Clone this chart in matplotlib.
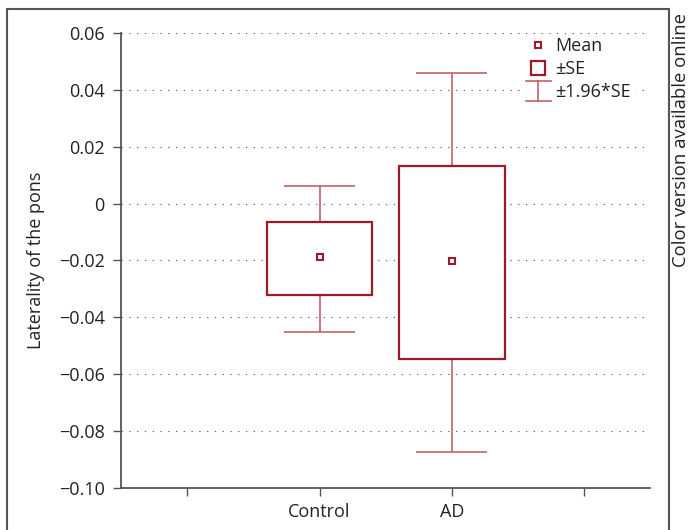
import numpy as np
import matplotlib
matplotlib.use('Agg')
import matplotlib.pyplot as plt
from matplotlib.lines import Line2D
from matplotlib.patches import Rectangle
from matplotlib.legend_handler import HandlerBase

plt.rcParams['font.family'] = ['Open Sans', 'DejaVu Sans']

groups = ['Control', 'AD']
means = [-0.0188, -0.0201]
se_low = [-0.0321, -0.0547]
se_high = [-0.0063, 0.0133]
ci_low = [-0.0451, -0.0875]
ci_high = [0.0064, 0.0461]
yticks = [0.06, 0.04, 0.02, 0, -0.02, -0.04, -0.06, -0.08, -0.10]
ytick_labels = ['0.06', '0.04', '0.02', '0', '\u22120.02', '\u22120.04',
                '\u22120.06', '\u22120.08', '\u22120.10']

box_col = '#9b1b26'
whisk_col = '#c4606a'
axis_col = '#555555'


class HandlerIBeam(HandlerBase):
    def create_artists(self, legend, orig_handle, xdescent, ydescent,
                       width, height, fontsize, trans):
        cx = width / 2 - xdescent
        w = 0.95 * width
        top = height * 1.25
        bot = -height * 0.3
        kw = dict(color=whisk_col, lw=1.2, transform=trans)
        return [Line2D([cx - w / 2, cx + w / 2], [top, top], **kw),
                Line2D([cx, cx], [bot, top], **kw),
                Line2D([cx - w / 2, cx + w / 2], [bot, bot], **kw)]


fig = plt.figure(figsize=(6.91, 5.30), dpi=100)
ax = fig.add_axes([0.1755, 0.0798, 0.7652, 0.8574])

x = np.arange(1, len(groups) + 1)

# whiskers +-1.96 SE
ax.vlines(x, ci_low, ci_high, color=whisk_col, lw=1.2, zorder=2)
ax.hlines(ci_low, x - 0.27, x + 0.27, color=whisk_col, lw=1.2, zorder=2)
ax.hlines(ci_high, x - 0.27, x + 0.27, color=whisk_col, lw=1.2, zorder=2)

# boxes +-SE
heights = np.array(se_high) - np.array(se_low)
ax.bar(x, heights, bottom=se_low, width=0.8, facecolor='white',
       edgecolor=box_col, lw=1.6, zorder=3)

# means
ax.plot(x, means, 's', ms=5, mfc='white', mec=box_col, mew=1.5, zorder=4)

ax.set_xlim(-0.5, 3.5)
ax.set_ylim(-0.10, 0.06)
ax.set_xticks([0, 1, 2, 3])
ax.set_xticklabels(['', 'Control', 'AD', ''])
ax.set_yticks(yticks)
ax.set_yticklabels(ytick_labels)
ax.tick_params(axis='both', direction='out', length=6, width=1,
               color=axis_col, labelsize=13, labelcolor='#222222')
ax.tick_params(axis='y', pad=6)
ax.tick_params(axis='x', pad=5)

for yv in yticks[:-1]:
    # top line stays visible above the legend box
    z = 6 if yv == max(yticks) else 1
    ax.axhline(yv, color='#666666', lw=0.8, ls=(0, (1.2, 5.8)), zorder=z)

for s in ['top', 'right']:
    ax.spines[s].set_visible(False)
for s in ['left', 'bottom']:
    ax.spines[s].set_color(axis_col)
    ax.spines[s].set_linewidth(1.3)

ax.set_ylabel('Laterality of the pons', fontsize=13, color='#222222',
              labelpad=10)

handles = [
    Line2D([], [], marker='s', ls='none', ms=5, mfc='white', mec=box_col, mew=1.5),
    Line2D([], [], marker='s', ls='none', ms=9.5, mfc='white', mec=box_col, mew=1.6),
    'ibeam',
]
leg = ax.legend(handles, ['Mean', '\u00b1SE', '\u00b11.96*SE'],
                handler_map={str: HandlerIBeam()},
                loc='upper right', bbox_to_anchor=(0.99, 1.022),
                frameon=True, fancybox=False, edgecolor='none',
                facecolor='white', framealpha=1, fontsize=13,
                handlelength=1.5, handletextpad=0.2, labelspacing=0.28,
                borderpad=0.25)
for t in leg.get_texts():
    t.set_color('#222222')

# outer frame
fig.patches.append(Rectangle((7 / 691, -0.1), 662 / 691, 1.1 - 9 / 530,
                             transform=fig.transFigure, fill=False,
                             edgecolor=axis_col, lw=1.5))

fig.text(0.985, 0.736, 'Color version available online', rotation=90,
         ha='center', va='center', fontsize=13.3, color='#222222')

fig.savefig('out.png', dpi=100)
